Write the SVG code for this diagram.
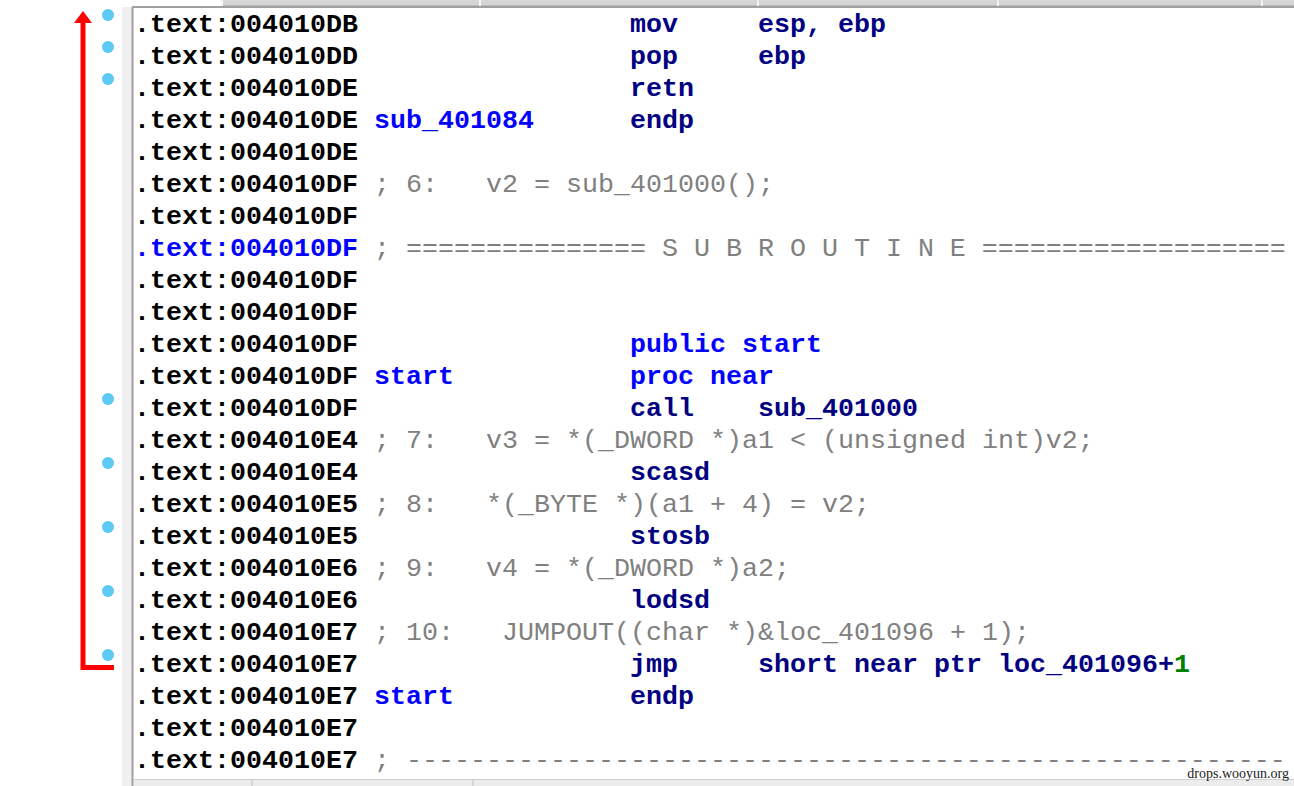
<svg xmlns="http://www.w3.org/2000/svg" width="1294" height="786" viewBox="0 0 1294 786">
<style>
.t{font-family:"Liberation Mono","DejaVu Sans Mono",monospace;font-size:26.67px}
.a{fill:#000;font-weight:bold}
.sel{fill:#0000ff;font-weight:bold}
.n{fill:#000080;font-weight:bold}
.b{fill:#0000ff;font-weight:bold}
.c{fill:#808080}
.g{fill:#008000;font-weight:bold}
.dot{fill:#5ccaf5}
</style>
<rect width="1294" height="786" fill="#fff"/>
<g id="chrome">
<rect x="222" y="0" width="1072" height="6" fill="#d6d6d6"/>
<line x1="222" y1="6" x2="1294" y2="6" stroke="#9a9a9a" stroke-width="1"/>
<g stroke="#f4f4f4" stroke-width="2"><line x1="222" y1="0" x2="222" y2="6"/><line x1="480" y1="0" x2="480" y2="6"/><line x1="758" y1="0" x2="758" y2="6"/><line x1="998" y1="0" x2="998" y2="6"/><line x1="1262" y1="0" x2="1262" y2="6"/></g>
<rect x="122" y="7" width="10" height="779" fill="#f0f0f0"/>
<line x1="132" y1="7" x2="1294" y2="7" stroke="#a0a0a0" stroke-width="2"/>
<line x1="132.5" y1="7" x2="132.5" y2="786" stroke="#a0a0a0" stroke-width="2"/>
<rect x="134" y="779" width="1160" height="7" fill="#ececec"/>
<line x1="134" y1="779.5" x2="1294" y2="779.5" stroke="#cfcfcf" stroke-width="1"/>
<g stroke="#c0c0c0" stroke-width="1"><line x1="252" y1="780" x2="252" y2="786"/><line x1="473" y1="780" x2="473" y2="786"/></g>
</g>
<g id="connectors">
<path d="M83,20 V667.5 H114" fill="none" stroke="#ff0000" stroke-width="5"/>
<polygon points="83,11 74,23 92,23" fill="#ff0000"/>
</g>
<g id="breakpoints">
<circle class="dot" cx="108" cy="15" r="6"/>
<circle class="dot" cx="108" cy="47" r="6"/>
<circle class="dot" cx="108" cy="79" r="6"/>
<circle class="dot" cx="108" cy="399" r="6"/>
<circle class="dot" cx="108" cy="463" r="6"/>
<circle class="dot" cx="108" cy="527" r="6"/>
<circle class="dot" cx="108" cy="591" r="6"/>
<circle class="dot" cx="108" cy="655" r="6"/>
</g>
<g id="listing" class="t">
<text y="32"><tspan x="134" class="a">.text:004010DB</tspan><tspan x="630" class="n">mov</tspan><tspan x="758" class="n">esp, ebp</tspan></text>
<text y="64"><tspan x="134" class="a">.text:004010DD</tspan><tspan x="630" class="n">pop</tspan><tspan x="758" class="n">ebp</tspan></text>
<text y="96"><tspan x="134" class="a">.text:004010DE</tspan><tspan x="630" class="n">retn</tspan></text>
<text y="128"><tspan x="134" class="a">.text:004010DE</tspan><tspan x="374" class="b">sub_401084</tspan><tspan x="630" class="n">endp</tspan></text>
<text y="160"><tspan x="134" class="a">.text:004010DE</tspan></text>
<text y="192"><tspan x="134" class="a">.text:004010DF</tspan><tspan x="374" class="c">; 6:</tspan><tspan x="486" class="c">v2 = sub_401000();</tspan></text>
<text y="224"><tspan x="134" class="a">.text:004010DF</tspan></text>
<text y="256"><tspan x="134" class="sel">.text:004010DF</tspan><tspan x="374" class="c">; =============== S U B R O U T I N E ===================</tspan></text>
<text y="288"><tspan x="134" class="a">.text:004010DF</tspan></text>
<text y="320"><tspan x="134" class="a">.text:004010DF</tspan></text>
<text y="352"><tspan x="134" class="a">.text:004010DF</tspan><tspan x="630" class="b">public start</tspan></text>
<text y="384"><tspan x="134" class="a">.text:004010DF</tspan><tspan x="374" class="b">start</tspan><tspan x="630" class="b">proc near</tspan></text>
<text y="416"><tspan x="134" class="a">.text:004010DF</tspan><tspan x="630" class="n">call</tspan><tspan x="758" class="n">sub_401000</tspan></text>
<text y="448"><tspan x="134" class="a">.text:004010E4</tspan><tspan x="374" class="c">; 7:</tspan><tspan x="486" class="c">v3 = *(_DWORD *)a1 &lt; (unsigned int)v2;</tspan></text>
<text y="480"><tspan x="134" class="a">.text:004010E4</tspan><tspan x="630" class="n">scasd</tspan></text>
<text y="512"><tspan x="134" class="a">.text:004010E5</tspan><tspan x="374" class="c">; 8:</tspan><tspan x="486" class="c">*(_BYTE *)(a1 + 4) = v2;</tspan></text>
<text y="544"><tspan x="134" class="a">.text:004010E5</tspan><tspan x="630" class="n">stosb</tspan></text>
<text y="576"><tspan x="134" class="a">.text:004010E6</tspan><tspan x="374" class="c">; 9:</tspan><tspan x="486" class="c">v4 = *(_DWORD *)a2;</tspan></text>
<text y="608"><tspan x="134" class="a">.text:004010E6</tspan><tspan x="630" class="n">lodsd</tspan></text>
<text y="640"><tspan x="134" class="a">.text:004010E7</tspan><tspan x="374" class="c">; 10:</tspan><tspan x="502" class="c">JUMPOUT((char *)&amp;loc_401096 + 1);</tspan></text>
<text y="672"><tspan x="134" class="a">.text:004010E7</tspan><tspan x="630" class="n">jmp</tspan><tspan x="758" class="n">short near ptr loc_401096+</tspan><tspan class="g">1</tspan></text>
<text y="704"><tspan x="134" class="a">.text:004010E7</tspan><tspan x="374" class="b">start</tspan><tspan x="630" class="n">endp</tspan></text>
<text y="736"><tspan x="134" class="a">.text:004010E7</tspan></text>
<text y="768"><tspan x="134" class="a">.text:004010E7</tspan><tspan x="374" class="c">; -------------------------------------------------------</tspan></text>
</g>
<text x="1289" y="778" text-anchor="end" font-family="'Liberation Serif',serif" font-size="14" fill="#222">drops.wooyun.org</text>
</svg>
